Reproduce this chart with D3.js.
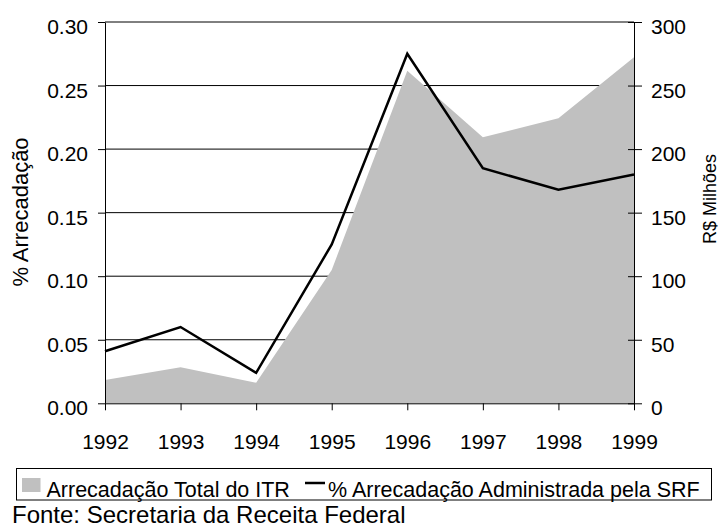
<!DOCTYPE html>
<html>
<head>
<meta charset="utf-8">
<script src="https://cdn.jsdelivr.net/npm/d3@7"></script>
<style>
  body { margin: 0; background: #fff; }
  svg { font-family: "Liberation Sans", Arial, sans-serif; }
</style>
</head>
<body>
<svg id="chart"></svg>
<script>
// anos e séries
const years = [1992, 1993, 1994, 1995, 1996, 1997, 1998, 1999];
const arrecadacaoTotal = [18.3, 28.3, 16.2, 104.9, 261.7, 209.3, 224.2, 272.2]; // R$ milhões
const pctSRF = [0.041, 0.060, 0.024, 0.125, 0.275, 0.185, 0.168, 0.180];       // %
const leftTicks = [0, 0.05, 0.10, 0.15, 0.20, 0.25, 0.30];
const rightTicks = [0, 50, 100, 150, 200, 250, 300];

const outerWidth = 719;
const outerHeight = 531;
const margin = { top: 22, left: 105 };
const width = 529;
const height = 381.3;

const svg = d3.select("#chart")
    .attr("width", outerWidth)
    .attr("height", outerHeight);

const g = svg.append("g")
    .attr("transform", `translate(${margin.left},${margin.top})`);

const x = d3.scaleLinear().domain([1992, 1999]).range([0, width]);
const yLeft = d3.scaleLinear().domain([0, 0.30]).range([height, 0]);
const yRight = d3.scaleLinear().domain([0, 300]).range([height, 0]);

const data = years.map((y, i) => ({ year: y, total: arrecadacaoTotal[i], pct: pctSRF[i] }));

// grade horizontal (fica atrás da área)
g.append("g").selectAll("line")
    .data(leftTicks.filter(d => d > 0))
    .enter().append("line")
    .attr("x1", 0)
    .attr("x2", width)
    .attr("y1", d => yLeft(d))
    .attr("y2", d => yLeft(d))
    .attr("stroke", "#000")
    .attr("stroke-width", 1);

// área: arrecadação total (eixo direito)
const area = d3.area()
    .x(d => x(d.year))
    .y0(height)
    .y1(d => yRight(d.total));

g.append("path")
    .datum(data)
    .attr("fill", "#c0c0c0")
    .attr("d", area);

// linha: % arrecadação (eixo esquerdo)
const line = d3.line()
    .x(d => x(d.year))
    .y(d => yLeft(d.pct));

g.append("path")
    .datum(data)
    .attr("fill", "none")
    .attr("stroke", "#000")
    .attr("stroke-width", 2.5)
    .attr("stroke-linejoin", "miter")
    .attr("d", line);

// eixos
const leftAxis = g.append("g")
    .call(d3.axisLeft(yLeft).tickValues(leftTicks).tickFormat(d3.format(".2f"))
        .tickSize(7).tickSizeOuter(0).tickPadding(10));

const bottomAxis = g.append("g")
    .attr("transform", `translate(0,${height})`)
    .call(d3.axisBottom(x).tickValues(years).tickFormat(d3.format("d"))
        .tickSize(7).tickSizeOuter(0).tickPadding(24));

const rightAxis = g.append("g")
    .attr("transform", `translate(${width},0)`)
    .call(d3.axisRight(yRight).tickValues(rightTicks).tickFormat(d3.format("d"))
        .tickSize(8).tickSizeOuter(0).tickPadding(9));

rightAxis.selectAll(".tick line").attr("x1", -6);

[leftAxis, bottomAxis, rightAxis].forEach(ax => {
    ax.selectAll("path, line").attr("stroke", "#000").attr("stroke-width", 1);
    ax.selectAll("text")
        .attr("fill", "#000")
        .style("font-size", "21px")
        .attr("font-family", null);
});
leftAxis.selectAll("text").attr("dy", "0.55em");
rightAxis.selectAll("text").attr("dy", "0.55em");

// títulos dos eixos
svg.append("text")
    .attr("transform", "translate(28,212) rotate(-90)")
    .attr("text-anchor", "middle")
    .style("font-size", "22px")
    .text("% Arrecadação");

svg.append("text")
    .attr("transform", "translate(716,199) rotate(-90)")
    .attr("text-anchor", "middle")
    .style("font-size", "18px")
    .text("R$ Milhões");

// legenda
const legend = svg.append("g");

legend.append("rect")
    .attr("x", 16.5)
    .attr("y", 468.5)
    .attr("width", 695)
    .attr("height", 31.5)
    .attr("fill", "none")
    .attr("stroke", "#000")
    .attr("stroke-width", 1);

legend.append("rect")
    .attr("x", 22)
    .attr("y", 478)
    .attr("width", 18.5)
    .attr("height", 14)
    .attr("fill", "#c0c0c0");

legend.append("text")
    .attr("x", 46.5)
    .attr("y", 496.5)
    .style("font-size", "21.5px")
    .text("Arrecadação Total do ITR");

legend.append("line")
    .attr("x1", 305)
    .attr("x2", 325)
    .attr("y1", 483)
    .attr("y2", 483)
    .attr("stroke", "#000")
    .attr("stroke-width", 2.5);

legend.append("text")
    .attr("x", 328)
    .attr("y", 496.5)
    .style("font-size", "21.5px")
    .text("% Arrecadação Administrada pela SRF");

svg.append("text")
    .attr("x", 12)
    .attr("y", 522.5)
    .style("font-size", "24px")
    .text("Fonte: Secretaria da Receita Federal");
</script>
</body>
</html>
